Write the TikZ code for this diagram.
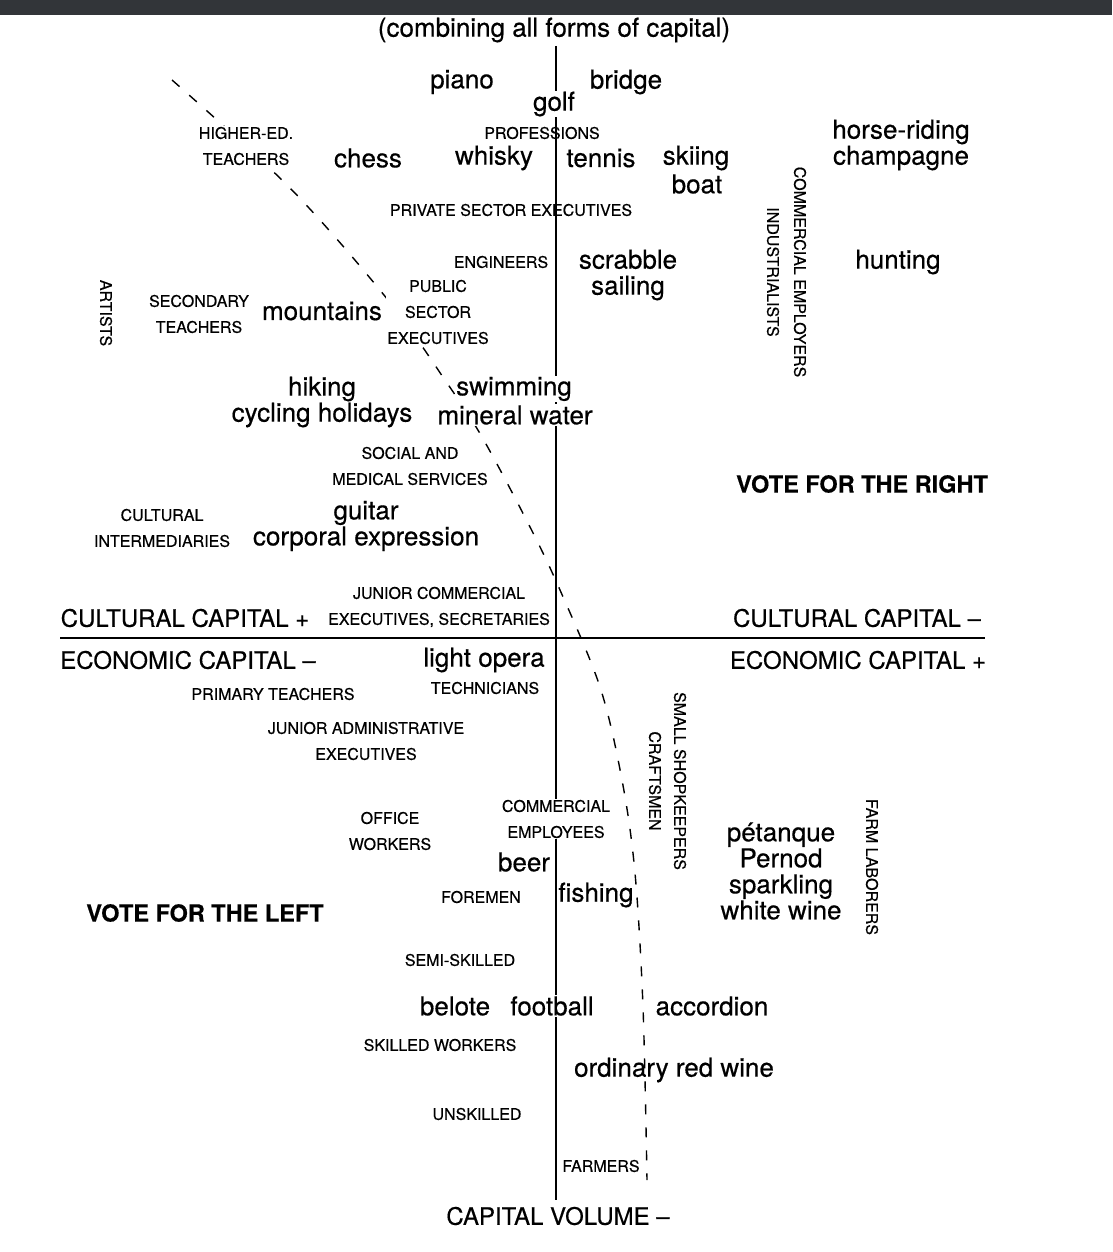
\documentclass[tikz,border=0pt]{standalone}
\usepackage{fontspec}
\setmainfont{TeX Gyre Heros}[FakeBold=0.45]
\usepackage{tikz}
\definecolor{barcol}{RGB}{50,53,57}

\begin{document}
\begin{tikzpicture}[x=1pt, y=-1pt,
  every node/.style={inner sep=1pt},
  word/.style={font=\fontsize{26}{26}\selectfont, align=center},
  grp/.style={font=\fontsize{16}{26}\selectfont, align=center},
  grpv/.style={grp, rotate=-90},
  bigcaps/.style={font=\fontsize{24}{26}\selectfont},
  vote/.style={font=\bfseries\fontsize{23.5}{26}\selectfont},
  whiteout/.style={fill=white},
  axisline/.style={line width=2pt},
  divide/.style={line width=1.4pt, dash pattern=on 10pt off 13pt}]
  \useasboundingbox (0,0) rectangle (1112,1252);
  \fill[barcol] (0,0) rectangle (1112,15);

  % the two axes
  \coordinate (top) at (556,46);
  \coordinate (bottom) at (556,1200);
  \coordinate (west) at (60,638);
  \coordinate (east) at (985,638);
  \draw[axisline] (top) -- (bottom);
  \draw[axisline] (west) -- (east);

  % dividing line between left and right votes
  \coordinate (d1) at (172,80);
  \coordinate (d2) at (290,188);
  \coordinate (d3) at (388,300);
  \coordinate (d4) at (447,383);
  \coordinate (d5) at (482,437);
  \coordinate (d6) at (529,525);
  \coordinate (d7) at (560,590);
  \coordinate (d8) at (600,687);
  \coordinate (d9) at (622,780);
  \coordinate (d10) at (635,873);
  \coordinate (d11) at (643,1007);
  \coordinate (d12) at (647,1180);
  \draw[divide] plot[smooth, tension=0.55] coordinates {(d1) (d2) (d3) (d4) (d5) (d6) (d7) (d8) (d9) (d10) (d11) (d12)};

  % upper half
  \node[word] (combining) at (554,30) {(combining all forms of capital)};
  \node[word] (piano) at (462,82) {piano};
  \node[word] (bridge) at (626,82) {bridge};
  \node[word, whiteout] (golf) at (554,104) {golf};
  \node[grp] (professions) at (542,133) {PROFESSIONS};
  \node[grp, whiteout] (highered) at (246,146) {HIGHER-ED.\\TEACHERS};
  \node[word] (chess) at (368,158) {chess};
  \node[word] (whisky) at (494,158) {whisky};
  \node[word] (tennis) at (601,158) {tennis};
  \node[word] (skiing) at (696,158) {skiing};
  \node[word] (boat) at (697,184) {boat};
  \node[word] (horse) at (901,145) {horse-riding\\champagne};
  \node[grp] (private) at (511,210) {PRIVATE SECTOR EXECUTIVES};
  \node[grpv] (employers) at (800,272) {COMMERCIAL EMPLOYERS};
  \node[grpv] (industrialists) at (773,272) {INDUSTRIALISTS};
  \node[grp] (engineers) at (501,262) {ENGINEERS};
  \node[word] (scrabble) at (628,275) {scrabble\\sailing};
  \node[word] (hunting) at (898,262) {hunting};
  \node[grpv] (artists) at (106,313) {ARTISTS};
  \node[grp] (secondary) at (199,314) {SECONDARY\\TEACHERS};
  \node[word] (mountains) at (322,311) {mountains};
  \node[grp, whiteout] (public) at (438,312) {PUBLIC\\SECTOR\\EXECUTIVES};
  \node[word] (hiking) at (322,402) {hiking\\cycling holidays};
  \node[word, whiteout] (swimming) at (514,389) {swimming};
  \node[word, whiteout] (mineral) at (515,415) {mineral water};
  \node[grp] (social) at (410,466) {SOCIAL AND\\MEDICAL SERVICES};
  \node[vote] (right) at (862,484) {VOTE FOR THE RIGHT};
  \node[grp] (intermediaries) at (162,528) {CULTURAL\\INTERMEDIARIES};
  \node[word] (guitar) at (366,526) {guitar\\corporal expression};
  \node[grp] (juniorcom) at (439,607) {JUNIOR COMMERCIAL\\EXECUTIVES, SECRETARIES};
  \node[bigcaps] (culturalplus) at (185,618) {CULTURAL CAPITAL +};
  \node[bigcaps] (culturalminus) at (857,618) {CULTURAL CAPITAL --};

  % lower half
  \node[bigcaps] (economicminus) at (188,660) {ECONOMIC CAPITAL --};
  \node[bigcaps] (economicplus) at (858,660) {ECONOMIC CAPITAL +};
  \node[word] (opera) at (484,660) {light opera};
  \node[grp] (primary) at (273,694) {PRIMARY TEACHERS};
  \node[grp] (technicians) at (485,688) {TECHNICIANS};
  \node[grpv] (shopkeepers) at (680,781) {SMALL SHOPKEEPERS};
  \node[grpv] (craftsmen) at (655,781) {CRAFTSMEN};
  \node[grp] (junioradmin) at (366,741) {JUNIOR ADMINISTRATIVE\\EXECUTIVES};
  \node[grp, whiteout] (comemployees) at (556,819) {COMMERCIAL\\EMPLOYEES};
  \node[grp] (office) at (390,831) {OFFICE\\WORKERS};
  \node[word] (petanque) at (781,871) {pétanque\\Pernod\\sparkling\\white wine};
  \node[grpv] (farmlaborers) at (872,867) {FARM LABORERS};
  \node[word] (beer) at (524,862) {beer};
  \node[grp] (foremen) at (481,897) {FOREMEN};
  \node[word] (fishing) at (596,895) {fishing};
  \node[vote] (left) at (205,913) {VOTE FOR THE LEFT};
  \node[grp] (semiskilled) at (460,960) {SEMI-SKILLED};
  \node[word] (belote) at (455,1006) {belote};
  \node[word, whiteout] (football) at (552,1006) {football};
  \node[word] (accordion) at (712,1006) {accordion};
  \node[grp] (skilled) at (440,1045) {SKILLED WORKERS};
  \node[word] (redwine) at (674,1070) {ordinary red wine};
  \node[grp] (unskilled) at (477,1114) {UNSKILLED};
  \node[grp] (farmers) at (601,1166) {FARMERS};
  \node[bigcaps] (volume) at (558,1216) {CAPITAL VOLUME --};
\end{tikzpicture}
\end{document}
